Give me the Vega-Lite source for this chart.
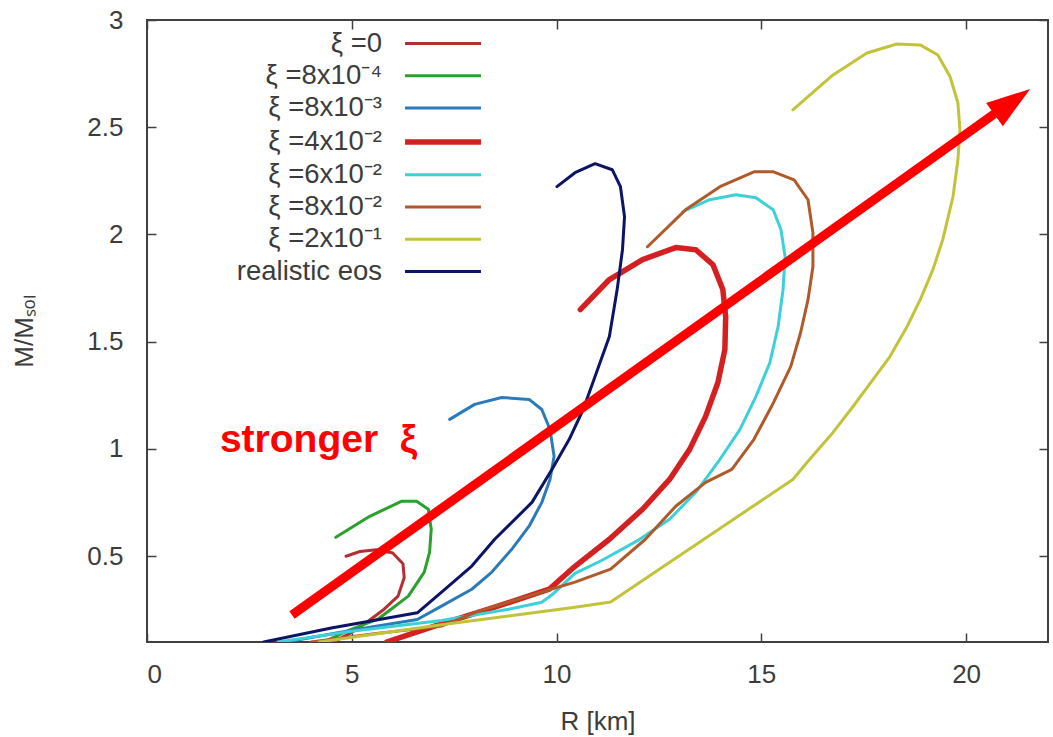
{
  "$schema": "https://vega.github.io/schema/vega-lite/v6.json",
  "width": 901,
  "height": 622,
  "autosize": {"type": "none"},
  "padding": {"left": 147, "top": 20, "right": 5, "bottom": 95},
  "background": "white",
  "config": {
    "view": {"stroke": "#404040", "strokeWidth": 2},
    "font": "Liberation Sans",
    "axis": {
      "grid": false,
      "domain": false,
      "tickColor": "#404040",
      "tickWidth": 1.5,
      "tickSize": -9,
      "labelFont": "Liberation Sans",
      "labelFontSize": 26,
      "labelColor": "#3c3c3c",
      "titleFont": "Liberation Sans",
      "titleFontSize": 26,
      "titleFontWeight": "normal",
      "titleColor": "#3c3c3c"
    }
  },
  "datasets": {
    "curves": [
      {"s": "ξ =0", "i": 1, "R": 4.55, "M": 0.10},
      {"s": "ξ =0", "i": 2, "R": 5.0, "M": 0.145},
      {"s": "ξ =0", "i": 3, "R": 5.40, "M": 0.197},
      {"s": "ξ =0", "i": 4, "R": 5.79, "M": 0.253},
      {"s": "ξ =0", "i": 5, "R": 6.13, "M": 0.314},
      {"s": "ξ =0", "i": 6, "R": 6.28, "M": 0.40},
      {"s": "ξ =0", "i": 7, "R": 6.25, "M": 0.465},
      {"s": "ξ =0", "i": 8, "R": 6.0, "M": 0.515},
      {"s": "ξ =0", "i": 9, "R": 5.6, "M": 0.53},
      {"s": "ξ =0", "i": 10, "R": 5.2, "M": 0.522},
      {"s": "ξ =0", "i": 11, "R": 4.86, "M": 0.50},

      {"s": "ξ =8x10⁻⁴", "i": 1, "R": 4.3, "M": 0.10},
      {"s": "ξ =8x10⁻⁴", "i": 2, "R": 5.0, "M": 0.16},
      {"s": "ξ =8x10⁻⁴", "i": 3, "R": 5.64, "M": 0.207},
      {"s": "ξ =8x10⁻⁴", "i": 4, "R": 5.96, "M": 0.253},
      {"s": "ξ =8x10⁻⁴", "i": 5, "R": 6.38, "M": 0.314},
      {"s": "ξ =8x10⁻⁴", "i": 6, "R": 6.77, "M": 0.426},
      {"s": "ξ =8x10⁻⁴", "i": 7, "R": 6.90, "M": 0.519},
      {"s": "ξ =8x10⁻⁴", "i": 8, "R": 6.94, "M": 0.626},
      {"s": "ξ =8x10⁻⁴", "i": 9, "R": 6.87, "M": 0.719},
      {"s": "ξ =8x10⁻⁴", "i": 10, "R": 6.58, "M": 0.756},
      {"s": "ξ =8x10⁻⁴", "i": 11, "R": 6.21, "M": 0.756},
      {"s": "ξ =8x10⁻⁴", "i": 12, "R": 5.40, "M": 0.682},
      {"s": "ξ =8x10⁻⁴", "i": 13, "R": 4.61, "M": 0.588},

      {"s": "ξ =8x10⁻³", "i": 1, "R": 3.4, "M": 0.10},
      {"s": "ξ =8x10⁻³", "i": 2, "R": 5.0, "M": 0.155},
      {"s": "ξ =8x10⁻³", "i": 3, "R": 6.6, "M": 0.205},
      {"s": "ξ =8x10⁻³", "i": 4, "R": 7.19, "M": 0.267},
      {"s": "ξ =8x10⁻³", "i": 5, "R": 7.93, "M": 0.346},
      {"s": "ξ =8x10⁻³", "i": 6, "R": 8.42, "M": 0.426},
      {"s": "ξ =8x10⁻³", "i": 7, "R": 8.91, "M": 0.533},
      {"s": "ξ =8x10⁻³", "i": 8, "R": 9.33, "M": 0.640},
      {"s": "ξ =8x10⁻³", "i": 9, "R": 9.64, "M": 0.751},
      {"s": "ξ =8x10⁻³", "i": 10, "R": 9.84, "M": 0.858},
      {"s": "ξ =8x10⁻³", "i": 11, "R": 9.94, "M": 0.966},
      {"s": "ξ =8x10⁻³", "i": 12, "R": 9.84, "M": 1.091},
      {"s": "ξ =8x10⁻³", "i": 13, "R": 9.64, "M": 1.184},
      {"s": "ξ =8x10⁻³", "i": 14, "R": 9.33, "M": 1.231},
      {"s": "ξ =8x10⁻³", "i": 15, "R": 8.66, "M": 1.240},
      {"s": "ξ =8x10⁻³", "i": 16, "R": 8.00, "M": 1.208},
      {"s": "ξ =8x10⁻³", "i": 17, "R": 7.39, "M": 1.138},

      {"s": "ξ =4x10⁻²", "i": 1, "R": 5.85, "M": 0.10},
      {"s": "ξ =4x10⁻²", "i": 2, "R": 7.02, "M": 0.174},
      {"s": "ξ =4x10⁻²", "i": 3, "R": 8.34, "M": 0.253},
      {"s": "ξ =4x10⁻²", "i": 4, "R": 9.82, "M": 0.346},
      {"s": "ξ =4x10⁻²", "i": 5, "R": 10.45, "M": 0.453},
      {"s": "ξ =4x10⁻²", "i": 6, "R": 11.29, "M": 0.579},
      {"s": "ξ =4x10⁻²", "i": 7, "R": 12.10, "M": 0.719},
      {"s": "ξ =4x10⁻²", "i": 8, "R": 12.76, "M": 0.858},
      {"s": "ξ =4x10⁻²", "i": 9, "R": 13.25, "M": 0.998},
      {"s": "ξ =4x10⁻²", "i": 10, "R": 13.64, "M": 1.152},
      {"s": "ξ =4x10⁻²", "i": 11, "R": 13.94, "M": 1.310},
      {"s": "ξ =4x10⁻²", "i": 12, "R": 14.11, "M": 1.464},
      {"s": "ξ =4x10⁻²", "i": 13, "R": 14.13, "M": 1.617},
      {"s": "ξ =4x10⁻²", "i": 14, "R": 14.06, "M": 1.743},
      {"s": "ξ =4x10⁻²", "i": 15, "R": 13.82, "M": 1.859},
      {"s": "ξ =4x10⁻²", "i": 16, "R": 13.40, "M": 1.929},
      {"s": "ξ =4x10⁻²", "i": 17, "R": 12.91, "M": 1.939},
      {"s": "ξ =4x10⁻²", "i": 18, "R": 12.10, "M": 1.883},
      {"s": "ξ =4x10⁻²", "i": 19, "R": 11.29, "M": 1.790},
      {"s": "ξ =4x10⁻²", "i": 20, "R": 10.58, "M": 1.650},

      {"s": "ξ =6x10⁻²", "i": 1, "R": 3.2, "M": 0.10},
      {"s": "ξ =6x10⁻²", "i": 2, "R": 5.0, "M": 0.15},
      {"s": "ξ =6x10⁻²", "i": 3, "R": 7.19, "M": 0.20},
      {"s": "ξ =6x10⁻²", "i": 4, "R": 8.83, "M": 0.253},
      {"s": "ξ =6x10⁻²", "i": 5, "R": 9.64, "M": 0.285},
      {"s": "ξ =6x10⁻²", "i": 6, "R": 9.89, "M": 0.32},
      {"s": "ξ =6x10⁻²", "i": 7, "R": 10.45, "M": 0.42},
      {"s": "ξ =6x10⁻²", "i": 8, "R": 11.1, "M": 0.48},
      {"s": "ξ =6x10⁻²", "i": 9, "R": 12.0, "M": 0.575},
      {"s": "ξ =6x10⁻²", "i": 10, "R": 12.76, "M": 0.672},
      {"s": "ξ =6x10⁻²", "i": 11, "R": 13.40, "M": 0.798},
      {"s": "ξ =6x10⁻²", "i": 12, "R": 13.99, "M": 0.952},
      {"s": "ξ =6x10⁻²", "i": 13, "R": 14.48, "M": 1.091},
      {"s": "ξ =6x10⁻²", "i": 14, "R": 14.87, "M": 1.245},
      {"s": "ξ =6x10⁻²", "i": 15, "R": 15.21, "M": 1.403},
      {"s": "ξ =6x10⁻²", "i": 16, "R": 15.41, "M": 1.571},
      {"s": "ξ =6x10⁻²", "i": 17, "R": 15.53, "M": 1.743},
      {"s": "ξ =6x10⁻²", "i": 18, "R": 15.58, "M": 1.897},
      {"s": "ξ =6x10⁻²", "i": 19, "R": 15.48, "M": 2.022},
      {"s": "ξ =6x10⁻²", "i": 20, "R": 15.29, "M": 2.115},
      {"s": "ξ =6x10⁻²", "i": 21, "R": 14.87, "M": 2.171},
      {"s": "ξ =6x10⁻²", "i": 22, "R": 14.38, "M": 2.185},
      {"s": "ξ =6x10⁻²", "i": 23, "R": 13.74, "M": 2.162},
      {"s": "ξ =6x10⁻²", "i": 24, "R": 13.08, "M": 2.106},

      {"s": "ξ =8x10⁻²", "i": 1, "R": 4.0, "M": 0.10},
      {"s": "ξ =8x10⁻²", "i": 2, "R": 5.6, "M": 0.14},
      {"s": "ξ =8x10⁻²", "i": 3, "R": 7.19, "M": 0.174},
      {"s": "ξ =8x10⁻²", "i": 4, "R": 8.10, "M": 0.244},
      {"s": "ξ =8x10⁻²", "i": 5, "R": 9.64, "M": 0.333},
      {"s": "ξ =8x10⁻²", "i": 6, "R": 10.45, "M": 0.379},
      {"s": "ξ =8x10⁻²", "i": 7, "R": 11.32, "M": 0.44},
      {"s": "ξ =8x10⁻²", "i": 8, "R": 12.17, "M": 0.579},
      {"s": "ξ =8x10⁻²", "i": 9, "R": 12.91, "M": 0.733},
      {"s": "ξ =8x10⁻²", "i": 10, "R": 13.64, "M": 0.844},
      {"s": "ξ =8x10⁻²", "i": 11, "R": 14.28, "M": 0.905},
      {"s": "ξ =8x10⁻²", "i": 12, "R": 14.82, "M": 1.045},
      {"s": "ξ =8x10⁻²", "i": 13, "R": 15.30, "M": 1.217},
      {"s": "ξ =8x10⁻²", "i": 14, "R": 15.72, "M": 1.385},
      {"s": "ξ =8x10⁻²", "i": 15, "R": 15.96, "M": 1.543},
      {"s": "ξ =8x10⁻²", "i": 16, "R": 16.14, "M": 1.696},
      {"s": "ξ =8x10⁻²", "i": 17, "R": 16.26, "M": 1.85},
      {"s": "ξ =8x10⁻²", "i": 18, "R": 16.26, "M": 2.008},
      {"s": "ξ =8x10⁻²", "i": 19, "R": 16.14, "M": 2.162},
      {"s": "ξ =8x10⁻²", "i": 20, "R": 15.80, "M": 2.255},
      {"s": "ξ =8x10⁻²", "i": 21, "R": 15.30, "M": 2.292},
      {"s": "ξ =8x10⁻²", "i": 22, "R": 14.82, "M": 2.292},
      {"s": "ξ =8x10⁻²", "i": 23, "R": 13.99, "M": 2.223},
      {"s": "ξ =8x10⁻²", "i": 24, "R": 13.15, "M": 2.115},
      {"s": "ξ =8x10⁻²", "i": 25, "R": 12.22, "M": 1.943},

      {"s": "ξ =2x10⁻¹", "i": 1, "R": 4.2, "M": 0.10},
      {"s": "ξ =2x10⁻¹", "i": 2, "R": 5.5, "M": 0.135},
      {"s": "ξ =2x10⁻¹", "i": 3, "R": 7.19, "M": 0.18},
      {"s": "ξ =2x10⁻¹", "i": 4, "R": 8.83, "M": 0.221},
      {"s": "ξ =2x10⁻¹", "i": 5, "R": 10.45, "M": 0.262},
      {"s": "ξ =2x10⁻¹", "i": 6, "R": 11.32, "M": 0.286},
      {"s": "ξ =2x10⁻¹", "i": 7, "R": 15.77, "M": 0.858},
      {"s": "ξ =2x10⁻¹", "i": 8, "R": 16.12, "M": 0.938},
      {"s": "ξ =2x10⁻¹", "i": 9, "R": 16.75, "M": 1.077},
      {"s": "ξ =2x10⁻¹", "i": 10, "R": 17.24, "M": 1.198},
      {"s": "ξ =2x10⁻¹", "i": 11, "R": 17.73, "M": 1.324},
      {"s": "ξ =2x10⁻¹", "i": 12, "R": 18.14, "M": 1.431},
      {"s": "ξ =2x10⁻¹", "i": 13, "R": 18.56, "M": 1.571},
      {"s": "ξ =2x10⁻¹", "i": 14, "R": 18.88, "M": 1.696},
      {"s": "ξ =2x10⁻¹", "i": 15, "R": 19.19, "M": 1.836},
      {"s": "ξ =2x10⁻¹", "i": 16, "R": 19.43, "M": 1.976},
      {"s": "ξ =2x10⁻¹", "i": 17, "R": 19.68, "M": 2.176},
      {"s": "ξ =2x10⁻¹", "i": 18, "R": 19.80, "M": 2.348},
      {"s": "ξ =2x10⁻¹", "i": 19, "R": 19.85, "M": 2.488},
      {"s": "ξ =2x10⁻¹", "i": 20, "R": 19.80, "M": 2.614},
      {"s": "ξ =2x10⁻¹", "i": 21, "R": 19.61, "M": 2.735},
      {"s": "ξ =2x10⁻¹", "i": 22, "R": 19.31, "M": 2.837},
      {"s": "ξ =2x10⁻¹", "i": 23, "R": 18.88, "M": 2.884},
      {"s": "ξ =2x10⁻¹", "i": 24, "R": 18.31, "M": 2.888},
      {"s": "ξ =2x10⁻¹", "i": 25, "R": 17.58, "M": 2.846},
      {"s": "ξ =2x10⁻¹", "i": 26, "R": 16.75, "M": 2.744},
      {"s": "ξ =2x10⁻¹", "i": 27, "R": 15.77, "M": 2.581},

      {"s": "realistic eos", "i": 1, "R": 2.85, "M": 0.10},
      {"s": "realistic eos", "i": 2, "R": 4.5, "M": 0.165},
      {"s": "realistic eos", "i": 3, "R": 6.60, "M": 0.236},
      {"s": "realistic eos", "i": 4, "R": 7.3, "M": 0.35},
      {"s": "realistic eos", "i": 5, "R": 7.93, "M": 0.454},
      {"s": "realistic eos", "i": 6, "R": 8.49, "M": 0.579},
      {"s": "realistic eos", "i": 7, "R": 9.40, "M": 0.751},
      {"s": "realistic eos", "i": 8, "R": 9.89, "M": 0.905},
      {"s": "realistic eos", "i": 9, "R": 10.31, "M": 1.045},
      {"s": "realistic eos", "i": 10, "R": 10.65, "M": 1.184},
      {"s": "realistic eos", "i": 11, "R": 10.94, "M": 1.338},
      {"s": "realistic eos", "i": 12, "R": 11.29, "M": 1.524},
      {"s": "realistic eos", "i": 13, "R": 11.48, "M": 1.743},
      {"s": "realistic eos", "i": 14, "R": 11.61, "M": 1.929},
      {"s": "realistic eos", "i": 15, "R": 11.66, "M": 2.083},
      {"s": "realistic eos", "i": 16, "R": 11.56, "M": 2.223},
      {"s": "realistic eos", "i": 17, "R": 11.36, "M": 2.302},
      {"s": "realistic eos", "i": 18, "R": 10.94, "M": 2.330},
      {"s": "realistic eos", "i": 19, "R": 10.45, "M": 2.288},
      {"s": "realistic eos", "i": 20, "R": 10.01, "M": 2.223}
    ]
  },
  "layer": [
    {
      "data": {"name": "curves"},
      "mark": {"type": "line", "clip": true, "strokeCap": "round", "strokeJoin": "round"},
      "encoding": {
        "x": {
          "field": "R", "type": "quantitative",
          "scale": {"domain": [0, 22], "nice": false, "zero": false},
          "axis": {"orient": "bottom", "values": [0, 5, 10, 15, 20], "title": "R [km]", "labelPadding": 28, "titlePadding": 21}
        },
        "y": {
          "field": "M", "type": "quantitative",
          "scale": {"domain": [0.1, 3], "nice": false, "zero": false},
          "axis": {"orient": "left", "values": [0.5, 1, 1.5, 2, 2.5, 3], "format": "~g", "title": "M/Mₛₒₗ", "labelPadding": 33, "titlePadding": 49}
        },
        "color": {
          "field": "s", "type": "nominal",
          "scale": {
            "domain": ["ξ =0", "ξ =8x10⁻⁴", "ξ =8x10⁻³", "ξ =4x10⁻²", "ξ =6x10⁻²", "ξ =8x10⁻²", "ξ =2x10⁻¹", "realistic eos"],
            "range": ["#b22f34", "#2ca02c", "#2b7bba", "#d42020", "#3cd0d8", "#b05a2a", "#c3c33a", "#0c1466"]
          },
          "legend": {
            "title": null, "orient": "none", "legendX": 280, "legendY": 9,
            "symbolType": "M-2.92,0H2.92", "symbolSize": 676,
            "labelAlign": "right", "labelOffset": -77, "labelLimit": 0,
            "labelFont": "Liberation Sans", "labelFontSize": 27.5, "labelColor": "#3c3c3c",
            "rowPadding": 4.3
          }
        },
        "strokeWidth": {
          "field": "s", "type": "nominal",
          "scale": {
            "type": "ordinal",
            "domain": ["ξ =0", "ξ =8x10⁻⁴", "ξ =8x10⁻³", "ξ =4x10⁻²", "ξ =6x10⁻²", "ξ =8x10⁻²", "ξ =2x10⁻¹", "realistic eos"],
            "range": [3, 3, 3, 5.5, 3, 3, 3, 3]
          },
          "legend": {
            "title": null, "orient": "none", "legendX": 280, "legendY": 9,
            "symbolType": "M-2.92,0H2.92", "symbolSize": 676,
            "labelAlign": "right", "labelOffset": -77, "labelLimit": 0,
            "labelFont": "Liberation Sans", "labelFontSize": 27.5, "labelColor": "#3c3c3c",
            "rowPadding": 4.3
          }
        },
        "order": {"field": "i", "type": "quantitative"}
      }
    },
    {
      "data": {"values": [{"x": 3.54, "y": 0.226, "x2": 20.9, "y2": 2.591}]},
      "mark": {"type": "rule", "color": "#ff0000", "strokeWidth": 9, "strokeCap": "butt"},
      "encoding": {
        "x": {
          "field": "x", "type": "quantitative",
          "scale": {"domain": [0, 22], "nice": false, "zero": false},
          "axis": {"orient": "top", "values": [0, 5, 10, 15, 20], "labels": false, "title": null}
        },
        "y": {
          "field": "y", "type": "quantitative",
          "scale": {"domain": [0.1, 3], "nice": false, "zero": false},
          "axis": {"orient": "right", "values": [0.5, 1, 1.5, 2, 2.5, 3], "labels": false, "title": null}
        },
        "x2": {"field": "x2"},
        "y2": {"field": "y2"}
      }
    },
    {
      "data": {"values": [{"x": 21.13, "y": 2.619}]},
      "mark": {"type": "point", "shape": "M0,-1L0.65,1L-0.65,1Z", "size": 1936, "angle": 54.3, "filled": true, "color": "#ff0000", "opacity": 1, "strokeWidth": 0},
      "encoding": {
        "x": {"field": "x", "type": "quantitative", "scale": {"domain": [0, 22], "nice": false, "zero": false}, "axis": null},
        "y": {"field": "y", "type": "quantitative", "scale": {"domain": [0.1, 3], "nice": false, "zero": false}, "axis": null}
      }
    },
    {
      "data": {"values": [{"x": 1.78, "y": 0.986, "label": "stronger\u00a0\u00a0ξ"}]},
      "mark": {"type": "text", "font": "Liberation Sans", "fontWeight": "bold", "fontSize": 39, "color": "#ff0000", "align": "left", "baseline": "alphabetic"},
      "encoding": {
        "x": {"field": "x", "type": "quantitative", "scale": {"domain": [0, 22], "nice": false, "zero": false}, "axis": null},
        "y": {"field": "y", "type": "quantitative", "scale": {"domain": [0.1, 3], "nice": false, "zero": false}, "axis": null},
        "text": {"field": "label"}
      }
    }
  ],
  "resolve": {"axis": {"x": "independent", "y": "independent"}}
}
